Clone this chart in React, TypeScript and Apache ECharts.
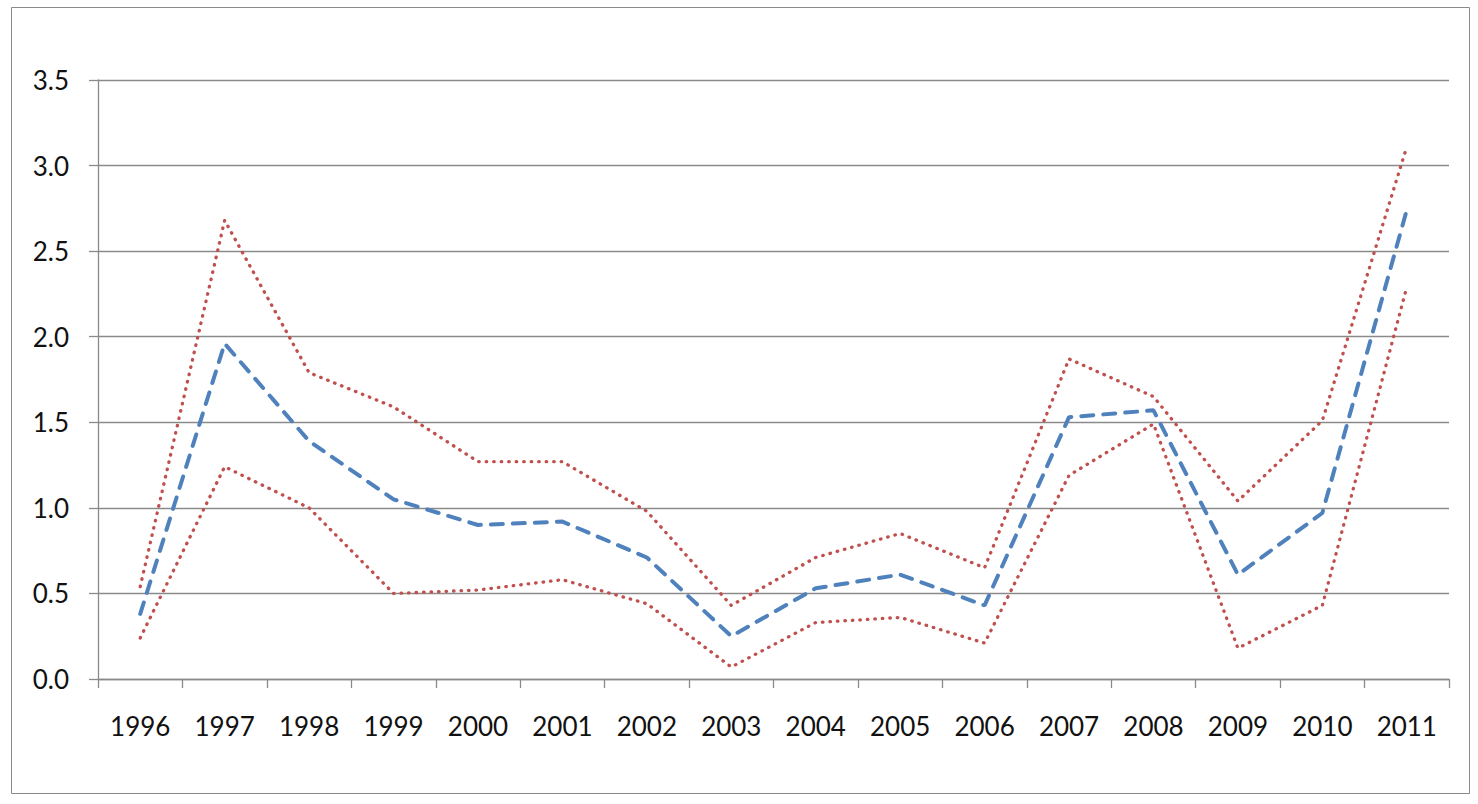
import React, { useEffect, useRef } from "react";
import * as echarts from "echarts";

const years = ["1996","1997","1998","1999","2000","2001","2002","2003","2004","2005","2006","2007","2008","2009","2010","2011"];
const central = [0.38, 1.96, 1.39, 1.05, 0.90, 0.92, 0.71, 0.25, 0.53, 0.61, 0.43, 1.53, 1.57, 0.61, 0.97, 2.74];
const upper = [0.54, 2.68, 1.79, 1.59, 1.27, 1.27, 0.98, 0.43, 0.71, 0.85, 0.65, 1.87, 1.65, 1.04, 1.51, 3.11];
const lower = [0.24, 1.24, 1.00, 0.50, 0.52, 0.58, 0.44, 0.07, 0.33, 0.36, 0.21, 1.19, 1.49, 0.18, 0.43, 2.29];
const yTicks = { min: 0, max: 3.5, step: 0.5 };

const FONT = "Lato, 'Open Sans', sans-serif";
const GRAY = "#8a8a8a";
const BLUE = "#4F81BD";
const RED = "#C0504D";

export default function App() {
  const ref = useRef<HTMLDivElement>(null);
  useEffect(() => {
    if (!ref.current) return;
    const chart = echarts.init(ref.current, undefined, { renderer: "svg" });
    const dotted = (data: number[]) => ({
      type: "line",
      data,
      showSymbol: false,
      symbol: "none",
      lineStyle: { color: RED, width: 3.3, type: [0.5, 7], cap: "round" },
      z: 2,
    });
    chart.setOption({
      animation: false,
      backgroundColor: "#ffffff",
      grid: { left: 98, right: 29, top: 80, bottom: 125, containLabel: false },
      graphic: [
        {
          type: "rect",
          shape: { x: 11.5, y: 7.5, width: 1458, height: 786 },
          style: { fill: "none", stroke: GRAY, lineWidth: 1 },
          silent: true,
        },
      ],
      xAxis: {
        type: "category",
        data: years,
        boundaryGap: true,
        axisLine: { show: true, lineStyle: { color: GRAY, width: 1.3 } },
        axisTick: { show: true, length: 9, alignWithLabel: false, lineStyle: { color: GRAY, width: 1.3 } },
        axisLabel: { color: "#111111", fontFamily: FONT, fontSize: 26, margin: 34 },
        splitLine: { show: false },
      },
      yAxis: {
        type: "value",
        min: yTicks.min,
        max: yTicks.max,
        interval: yTicks.step,
        axisLine: { show: true, lineStyle: { color: GRAY, width: 1.3 } },
        axisTick: { show: true, length: 9, lineStyle: { color: GRAY, width: 1.3 } },
        axisLabel: {
          color: "#111111",
          fontFamily: FONT,
          fontSize: 26,
          margin: 29,
          formatter: (v: number) => v.toFixed(1),
        },
        splitLine: { show: true, lineStyle: { color: GRAY, width: 1.3 } },
      },
      series: [
        dotted(upper),
        dotted(lower),
        {
          type: "line",
          data: central,
          showSymbol: false,
          symbol: "none",
          lineStyle: { color: BLUE, width: 4, type: [12, 10], cap: "round" },
          z: 3,
        },
      ],
    });
    return () => chart.dispose();
  }, []);
  return (
    <div
      ref={ref}
      style={{ position: "fixed", left: 0, top: 0, width: 1478, height: 804, background: "#fff" }}
    />
  );
}
